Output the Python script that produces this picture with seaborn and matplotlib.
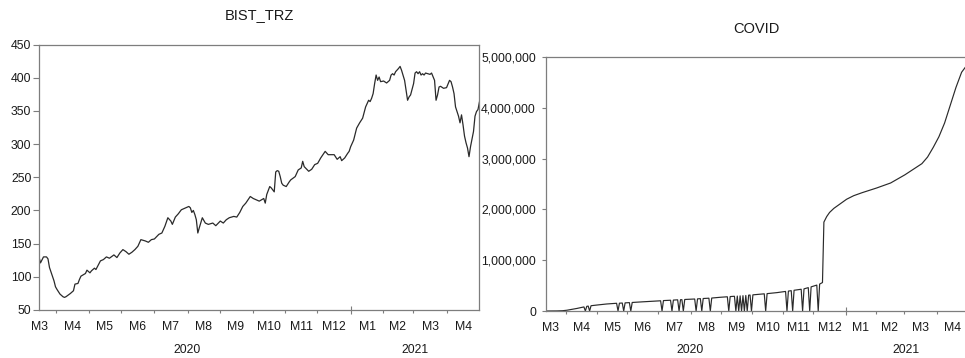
import numpy as np
import pandas as pd
import matplotlib
matplotlib.use("Agg")
import matplotlib.pyplot as plt
from matplotlib.ticker import FuncFormatter
import seaborn as sns

# ---------------------------------------------------------------- data
# BIST tourism index (BIST_TRZ), weekday observations
bist_dates = [
    "2020-03-16", "2020-03-17", "2020-03-19", "2020-03-23", "2020-03-24", "2020-03-25",
    "2020-03-30", "2020-03-31", "2020-04-01", "2020-04-03", "2020-04-07", "2020-04-08",
    "2020-04-09", "2020-04-14", "2020-04-16", "2020-04-17", "2020-04-21", "2020-04-22",
    "2020-04-23", "2020-04-28", "2020-04-29", "2020-05-01", "2020-05-04", "2020-05-06",
    "2020-05-07", "2020-05-12", "2020-05-14", "2020-05-18", "2020-05-20", "2020-05-25",
    "2020-05-27", "2020-05-29", "2020-06-02", "2020-06-04", "2020-06-08", "2020-06-10",
    "2020-06-12", "2020-06-16", "2020-06-18", "2020-06-23", "2020-06-25", "2020-06-29",
    "2020-07-01", "2020-07-06", "2020-07-08", "2020-07-10", "2020-07-14", "2020-07-16",
    "2020-07-17", "2020-07-21", "2020-07-23", "2020-07-27", "2020-07-29", "2020-08-03",
    "2020-08-04", "2020-08-05", "2020-08-06", "2020-08-07", "2020-08-10", "2020-08-11",
    "2020-08-12", "2020-08-14", "2020-08-18", "2020-08-20", "2020-08-25", "2020-08-27",
    "2020-09-01", "2020-09-03", "2020-09-07", "2020-09-09", "2020-09-14", "2020-09-16",
    "2020-09-18", "2020-09-22", "2020-09-24", "2020-09-29", "2020-10-01", "2020-10-05",
    "2020-10-07", "2020-10-12", "2020-10-13", "2020-10-14", "2020-10-16", "2020-10-19",
    "2020-10-21", "2020-10-22", "2020-10-23", "2020-10-26", "2020-10-27", "2020-10-28",
    "2020-10-29", "2020-11-02", "2020-11-04", "2020-11-05", "2020-11-10", "2020-11-12",
    "2020-11-16", "2020-11-17", "2020-11-18", "2020-11-23", "2020-11-25", "2020-11-27",
    "2020-12-01", "2020-12-03", "2020-12-08", "2020-12-10", "2020-12-14", "2020-12-16",
    "2020-12-18", "2020-12-22", "2020-12-23", "2020-12-25", "2020-12-29", "2020-12-30",
    "2020-12-31", "2021-01-04", "2021-01-06", "2021-01-08", "2021-01-12", "2021-01-14",
    "2021-01-18", "2021-01-19", "2021-01-20", "2021-01-21", "2021-01-22", "2021-01-25",
    "2021-01-26", "2021-01-27", "2021-01-28", "2021-02-01", "2021-02-03", "2021-02-05",
    "2021-02-08", "2021-02-09", "2021-02-10", "2021-02-11", "2021-02-15", "2021-02-16",
    "2021-02-17", "2021-02-19", "2021-02-22", "2021-02-23", "2021-02-24", "2021-02-25",
    "2021-03-01", "2021-03-02", "2021-03-03", "2021-03-04", "2021-03-05", "2021-03-08",
    "2021-03-09", "2021-03-10", "2021-03-11", "2021-03-16", "2021-03-17", "2021-03-19",
    "2021-03-22", "2021-03-23", "2021-03-24", "2021-03-25", "2021-03-29", "2021-03-31",
    "2021-04-02", "2021-04-05", "2021-04-06", "2021-04-07", "2021-04-08", "2021-04-12",
    "2021-04-13", "2021-04-14", "2021-04-15", "2021-04-16", "2021-04-19", "2021-04-20",
    "2021-04-21", "2021-04-22", "2021-04-26", "2021-04-27", "2021-04-28", "2021-04-29",
    "2021-04-30",
]
bist_values = [
    130, 121, 130, 130, 127, 114,
    94, 85, 81, 74, 70, 69,
    70, 75, 79, 89, 90, 96,
    101, 105, 110, 106, 109, 113,
    111, 124, 126, 130, 128, 133,
    129, 136, 141, 138, 134, 137,
    141, 146, 156, 154, 152, 156,
    157, 164, 166, 176, 189, 184,
    179, 190, 195, 201, 203, 206,
    204, 197, 200, 194, 186, 166,
    174, 189, 181, 179, 181, 177,
    184, 181, 186, 189, 191, 190,
    197, 206, 211, 221, 218, 216,
    214, 218, 211, 224, 236, 234,
    228, 258, 260, 259, 251, 241,
    238, 236, 243, 246, 251, 261,
    264, 274, 266, 259, 262, 269,
    271, 279, 289, 284, 284, 284,
    277, 281, 275, 279, 286, 289,
    296, 306, 324, 332, 339, 356,
    366, 364, 369, 376, 391, 404,
    396, 401, 394, 395, 392, 396,
    404, 406, 404, 409, 414, 417,
    411, 396, 381, 366, 371, 374,
    391, 407, 409, 406, 409, 404,
    406, 404, 407, 405, 407, 396,
    366, 374, 386, 387, 384, 385,
    396, 394, 386, 376, 356, 342,
    332, 344, 329, 312, 302, 294,
    281, 296, 319, 342, 349, 352,
    364,
]

# Cumulative COVID cases; days without a report are recorded as 0
covid_dates = [
    "2020-03-11", "2020-03-23", "2020-03-27", "2020-04-01", "2020-04-10", "2020-04-17",
    "2020-04-20", "2020-04-21", "2020-04-22", "2020-04-23", "2020-04-24", "2020-05-01",
    "2020-05-11", "2020-05-20", "2020-05-21", "2020-05-22", "2020-05-26", "2020-05-27",
    "2020-05-28", "2020-06-02", "2020-06-03", "2020-06-04", "2020-06-15", "2020-07-02",
    "2020-07-03", "2020-07-06", "2020-07-13", "2020-07-14", "2020-07-15", "2020-07-20",
    "2020-07-21", "2020-07-22", "2020-07-23", "2020-07-24", "2020-07-27", "2020-08-05",
    "2020-08-06", "2020-08-07", "2020-08-11", "2020-08-12", "2020-08-13", "2020-08-19",
    "2020-08-20", "2020-08-21", "2020-08-31", "2020-09-07", "2020-09-08", "2020-09-09",
    "2020-09-14", "2020-09-15", "2020-09-16", "2020-09-17", "2020-09-18", "2020-09-21",
    "2020-09-22", "2020-09-23", "2020-09-24", "2020-09-25", "2020-09-28", "2020-09-29",
    "2020-09-30", "2020-10-01", "2020-10-13", "2020-10-14", "2020-10-15", "2020-10-26",
    "2020-11-03", "2020-11-04", "2020-11-05", "2020-11-09", "2020-11-10", "2020-11-11",
    "2020-11-18", "2020-11-19", "2020-11-20", "2020-11-25", "2020-11-26", "2020-11-27",
    "2020-12-03", "2020-12-04", "2020-12-07", "2020-12-09", "2020-12-10", "2020-12-14",
    "2020-12-16", "2020-12-21", "2020-12-25", "2021-01-01", "2021-01-08", "2021-01-18",
    "2021-02-01", "2021-02-15", "2021-03-01", "2021-03-09", "2021-03-17", "2021-03-23",
    "2021-03-29", "2021-04-02", "2021-04-08", "2021-04-14", "2021-04-20", "2021-04-26",
    "2021-04-30",
]
covid_values = [
    1, 1500, 5700, 15000, 50000, 80000,
    0, 92000, 97000, 0, 104000, 120000,
    138000, 152000, 0, 154000, 157000, 0,
    160000, 165000, 0, 168000, 180000, 201000,
    0, 205000, 212000, 0, 215000, 220000,
    0, 222000, 223000, 0, 227000, 236000,
    0, 239000, 243000, 0, 246000, 252000,
    0, 255000, 270000, 280000, 0, 284000,
    290000, 0, 294000, 0, 298000, 0,
    302000, 0, 306000, 0, 312000, 314000,
    0, 318000, 338000, 0, 342000, 362000,
    385000, 0, 392000, 400000, 0, 408000,
    428000, 0, 436000, 460000, 0, 475000,
    510000, 0, 530000, 560000, 1750000, 1860000,
    1940000, 2020000, 2100000, 2200000, 2270000, 2330000,
    2420000, 2520000, 2680000, 2790000, 2900000, 3030000,
    3220000, 3430000, 3700000, 4050000, 4400000, 4700000,
    4850000,
]

bist_yticks = [50, 100, 150, 200, 250, 300, 350, 400, 450]
covid_yticks = [0, 1_000_000, 2_000_000, 3_000_000, 4_000_000, 5_000_000]
month_labels = ["M3", "M4", "M5", "M6", "M7", "M8", "M9", "M10", "M11", "M12",
                "M1", "M2", "M3", "M4"]
year_labels = ["2020", "2021"]
titles = ["BIST_TRZ", "COVID"]

# ---------------------------------------------------------------- style
sns.set_theme(style="white")
plt.rcParams["font.family"] = ["Liberation Sans", "DejaVu Sans"]
INK = "#1a1a1a"
FRAME = "#7d7d7d"
LINE = "#2a2a2a"
TICK_PT = 8.8

W, H = 965, 358
fig = plt.figure(figsize=(W / 100, H / 100), dpi=100)
fig.patch.set_facecolor("white")


def axes_px(left, top, right, bottom):
    return fig.add_axes([left / W, 1 - bottom / H, (right - left) / W, (bottom - top) / H])


ax1 = axes_px(39, 44.5, 479.5, 310)
ax2 = axes_px(545.6, 57, 967.3, 311)

# weekday workfile: observations are counted in business days
origin = np.datetime64(bist_dates[0])


def obs(dates):
    return np.busday_count(origin, np.array(dates, dtype="datetime64[D]"))


bist = pd.DataFrame({"obs": obs(bist_dates), "BIST_TRZ": bist_values})
covid = pd.DataFrame({"obs": obs(covid_dates), "COVID": covid_values})

sns.lineplot(data=bist, x="obs", y="BIST_TRZ", ax=ax1, color=LINE,
             linewidth=0.9, estimator=None, sort=False)
sns.lineplot(data=covid, x="obs", y="COVID", ax=ax2, color=LINE,
             linewidth=0.85, estimator=None, sort=False)

ax1.set_xlim(bist["obs"].min(), bist["obs"].max())
ax1.set_ylim(bist_yticks[0], bist_yticks[-1])
ax1.set_yticks(bist_yticks)
ax2.set_xlim(covid["obs"].min(), covid["obs"].max())
ax2.set_ylim(covid_yticks[0], covid_yticks[-1])
ax2.set_yticks(covid_yticks)
ax2.yaxis.set_major_formatter(FuncFormatter(lambda v, p: f"{v:,.0f}"))

# month boundaries (first weekday of each month) and month centres
month_starts = pd.date_range("2020-03-01", "2021-05-01", freq="MS").values.astype("datetime64[D]")
first_obs = obs(np.busday_offset(month_starts, 0, roll="forward")).astype(float)
bounds = first_obs - 0.5
centres = (bounds[:-1] + bounds[1:]) / 2
inner_bounds = bounds[1:-1]
year_break = obs([np.busday_offset("2021-01-01", 0, roll="forward")])[0] - 0.5
n2020 = sum(1 for d in month_starts[:-1] if str(d).startswith("2020"))
year_pos = [centres[:n2020].mean(), centres[n2020:].mean()]

for ax, ylen, ypad in ((ax1, 4.4, 1.1), (ax2, 2.9, 4.1)):
    ax.set_xlabel("")
    ax.set_ylabel("")
    ax.grid(False)
    for s in ax.spines.values():
        s.set_visible(True)
        s.set_color(FRAME)
        s.set_linewidth(0.9)
    ax.set_xticks(inner_bounds)
    ax.set_xticklabels([])
    ax.set_xticks(centres, minor=True)
    ax.set_xticklabels(month_labels, minor=True)
    ax.tick_params(axis="x", which="major", direction="out", length=2.3,
                   width=0.8, color=FRAME, bottom=True)
    ax.tick_params(axis="x", which="minor", length=0, pad=8.0,
                   labelsize=TICK_PT, labelcolor=INK, bottom=True)
    ax.tick_params(axis="y", which="major", direction="out", length=ylen,
                   width=0.8, color=FRAME, pad=ypad, labelsize=TICK_PT,
                   labelcolor=INK, left=True)
    # longer tick at the turn of the year
    for t, loc in zip(ax.xaxis.get_major_ticks(), inner_bounds):
        if abs(loc - year_break) < 1e-9:
            t.tick1line.set_marker("|")
            t.tick1line.set_markersize(5.2)
    for label, xpos in zip(year_labels, year_pos):
        ax.annotate(label, xy=(xpos, 1 - 353.3 / H),
                    xycoords=("data", "figure fraction"),
                    ha="center", va="baseline", fontsize=TICK_PT, color=INK,
                    annotation_clip=False)

fig.text(259.3 / W, 1 - 18.6 / H, titles[0], ha="center", va="baseline",
         fontsize=10.5, color=INK)
fig.text(756.5 / W, 1 - 33.3 / H, titles[1], ha="center", va="baseline",
         fontsize=10.5, color=INK)

fig.savefig("out.png", dpi=100, facecolor="white")
